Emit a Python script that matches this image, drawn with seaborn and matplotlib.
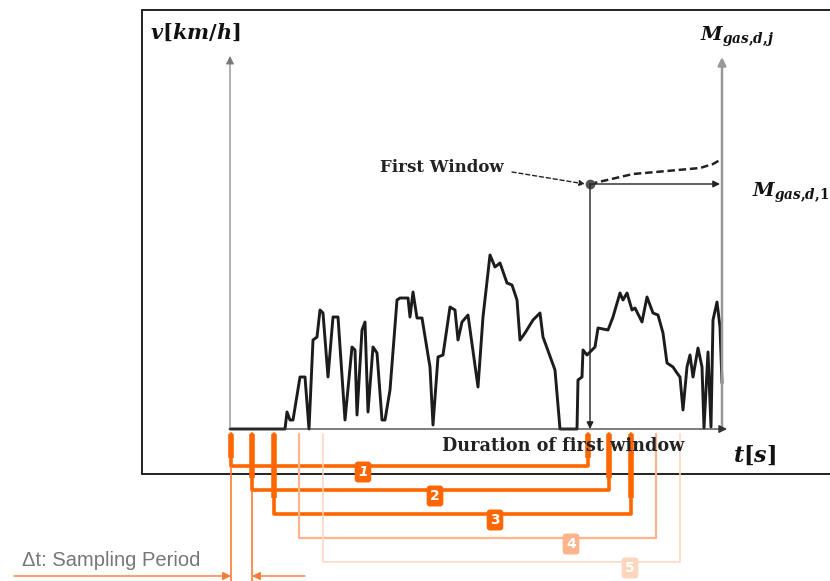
import numpy as np
import pandas as pd
import matplotlib
matplotlib.use('Agg')
import matplotlib.pyplot as plt
import seaborn as sns

# ---------------- data ----------------
time_s = [0, 55, 57, 60, 63, 70, 75, 79, 83, 87, 90, 93, 98, 103, 108, 115, 122, 125, 127,
          132, 135, 138, 143, 147, 152, 155, 160, 167, 170, 178, 180, 183, 187, 192, 198,
          200, 203, 208, 213, 220, 225, 228, 232, 238, 248, 253, 260, 265, 270, 277, 282,
          287, 290, 295, 303, 310, 313, 325, 330, 347, 348, 352, 353, 357, 365, 368, 378,
          383, 390, 393, 397, 402, 405, 412, 417, 423, 428, 433, 437, 443, 447, 450, 453,
          457, 460, 463, 468, 472, 474, 478, 481, 483, 487, 490, 492]
speed_kmh = [0, 0, 8.5, 4.5, 4.5, 26, 26, 0, 44.5, 46, 59.5, 58, 26, 56, 56, 4.5, 41, 39.5, 7,
             49.5, 53.5, 8.5, 41, 38, 4.5, 4.5, 19.5, 64.5, 65.5, 65.5, 56, 68.5, 55.5, 55.5, 37,
             31, 2, 36, 37, 61, 59.5, 44.5, 53.5, 57, 21, 56, 87, 81, 83, 73, 72,
             64.5, 44.5, 48, 54.5, 58, 46, 29.5, 0, 0, 24.5, 26, 39.5, 37, 41, 50.5, 49.5,
             56, 68, 64.5, 68, 59.5, 60.5, 53.5, 66, 58, 57, 48, 33, 31, 28, 26, 9.5,
             31, 37, 26, 40.5, 31, 0.5, 38.5, 1, 54.5, 63.5, 51, 23]
mass_t = [360, 403, 437, 470, 483, 490]
mass_level = [122.5, 127.5, 129, 130.5, 132.5, 134.5]
window_labels = ['1', '2', '3', '4', '5']
window_start_s = [1, 22, 44, 69, 93]
window_duration_s = 357
first_window_end_s = 360

# ---------------- style ----------------
sns.set_style('white')
plt.rcParams['font.family'] = ['DejaVu Serif']
plt.rcParams['mathtext.fontset'] = 'custom'
plt.rcParams['mathtext.it'] = 'DejaVu Serif:italic:bold'
plt.rcParams['mathtext.rm'] = 'DejaVu Serif:bold'
plt.rcParams['mathtext.bf'] = 'DejaVu Serif:bold'

W, H = 830, 581
fig = plt.figure(figsize=(8.3, 5.81), dpi=100)
ax = fig.add_axes([0, 0, 1, 1])
X0, Y0, VS = 230, 429, 0.5


def P(x, y):
    return (x - X0, (Y0 - y) * VS)


def PY(y):
    return (Y0 - y) * VS


# speed trace
df = pd.DataFrame({'t': time_s, 'v': speed_kmh})
sns.lineplot(data=df, x='t', y='v', sort=False, estimator=None, color='#1c1c1c',
             lw=2.1, ax=ax)

ax.set_xlim(-X0, W - X0)
ax.set_ylim((Y0 - H) * VS, Y0 * VS)
ax.axis('off')

# outer frame
ax.plot(*zip(P(142, 10), P(830, 10)), color='#222', lw=1.4, clip_on=False)
ax.plot(*zip(P(142, 10), P(142, 474)), color='#222', lw=1.4, clip_on=False)
ax.plot(*zip(P(142, 474), P(830, 474)), color='#222', lw=1.4, clip_on=False)

# axes arrows
ax.annotate('', xy=P(230, 56), xytext=P(230, 429),
            arrowprops=dict(arrowstyle='-|>', color='#777', lw=0.8, mutation_scale=12,
                            shrinkA=0, shrinkB=0))
ax.annotate('', xy=P(722, 57), xytext=P(722, 429),
            arrowprops=dict(arrowstyle='-|>', color='#999', lw=1.8, mutation_scale=12,
                            shrinkA=0, shrinkB=0))
ax.annotate('', xy=P(727, 429), xytext=P(230, 429),
            arrowprops=dict(arrowstyle='-|>', color='#333', lw=0.9, mutation_scale=12,
                            shrinkA=0, shrinkB=0))

# first window vertical marker
ax.annotate('', xy=(first_window_end_s, 0), xytext=(first_window_end_s, mass_level[0]),
            arrowprops=dict(arrowstyle='-|>', color='#222', lw=1.0, mutation_scale=10,
                            shrinkA=0, shrinkB=0))
ax.annotate('', xy=(490, mass_level[0]), xytext=(first_window_end_s, mass_level[0]),
            arrowprops=dict(arrowstyle='-|>', color='#222', lw=1.0, mutation_scale=10,
                            shrinkA=0, shrinkB=0))
ax.plot(mass_t, mass_level, color='#222', lw=1.8, ls=(0, (3, 1.5)))
ax.plot([first_window_end_s], [mass_level[0]], 'o', color='#555', ms=6)
ax.annotate('', xy=P(585, 184), xytext=P(512, 172),
            arrowprops=dict(arrowstyle='-|>', color='#222', lw=1.0, ls=(0, (3, 2)),
                            mutation_scale=8, shrinkA=0, shrinkB=0))

# texts
ax.text(*P(150, 32), r'$v[km/h]$', fontsize=15, ha='left', va='center', color='#111')
ax.text(*P(700, 37), r'$M_{gas{,}d{,}j}$', fontsize=14, ha='left', va='center', color='#111')
ax.text(*P(752, 193), r'$M_{gas{,}d{,}1}$', fontsize=14, ha='left', va='center', color='#111')
ax.text(*P(733, 455), r'$t[s]$', fontsize=16, ha='left', va='center', color='#111')
ax.text(*P(380, 168), 'First Window', fontsize=12, fontweight='bold', ha='left',
        va='center', color='#222')
ax.text(*P(442, 446), 'Duration of first window', fontsize=12.7, fontweight='bold',
        ha='left', va='center', color='#222')

# sliding windows
win_colors = ['#FF6600', '#FF6600', '#FF6600', '#FDB48A', '#FED6BE']
win_lw = [2.6, 2.6, 2.6, 1.6, 1.1]
label_x = [363, 435, 495, 571, 630]
for i, (lab, s) in enumerate(zip(window_labels, window_start_s)):
    e = s + window_duration_s
    yl = PY(466 + 24 * i)
    top = PY(434)
    c = win_colors[i]
    ax.plot([s, s, e, e], [top, yl, yl, top], color=c, lw=win_lw[i], clip_on=False,
            solid_joinstyle='round')
    if i < 3:
        ax.plot([s, s], [top, PY(458 + 20 * i)], color=c, lw=4, clip_on=False,
                solid_capstyle='butt')
        ax.plot([e, e], [top, PY(458 + 20 * i)], color=c, lw=4, clip_on=False,
                solid_capstyle='butt')
    ax.text(label_x[i] - X0, PY(466 + 24 * i + 6), lab, fontsize=10, fontweight='bold',
            fontstyle='italic' if i == 0 else 'normal', family='DejaVu Sans',
            color='white', ha='center', va='center',
            bbox=dict(boxstyle='round,pad=0.25', fc=c, ec='none'))

# sampling period
sc = '#FF7A33'
ax.plot([window_start_s[0]] * 2, [PY(466), PY(581)], color=sc, lw=1.2, clip_on=False)
ax.plot([window_start_s[1]] * 2, [PY(490), PY(581)], color=sc, lw=1.2, clip_on=False)
ax.annotate('', xy=(window_start_s[0], PY(576)), xytext=P(14, 576),
            arrowprops=dict(arrowstyle='-|>', color=sc, lw=1.0, mutation_scale=12,
                            shrinkA=0, shrinkB=0))
ax.annotate('', xy=(window_start_s[1], PY(576)), xytext=P(305, 576),
            arrowprops=dict(arrowstyle='-|>', color=sc, lw=1.0, mutation_scale=12,
                            shrinkA=0, shrinkB=0))
ax.text(*P(22, 560), '\u0394t: Sampling Period', fontsize=14.5, family='Liberation Sans',
        color='#777', ha='left', va='center')

fig.savefig('out.png', dpi=100)
